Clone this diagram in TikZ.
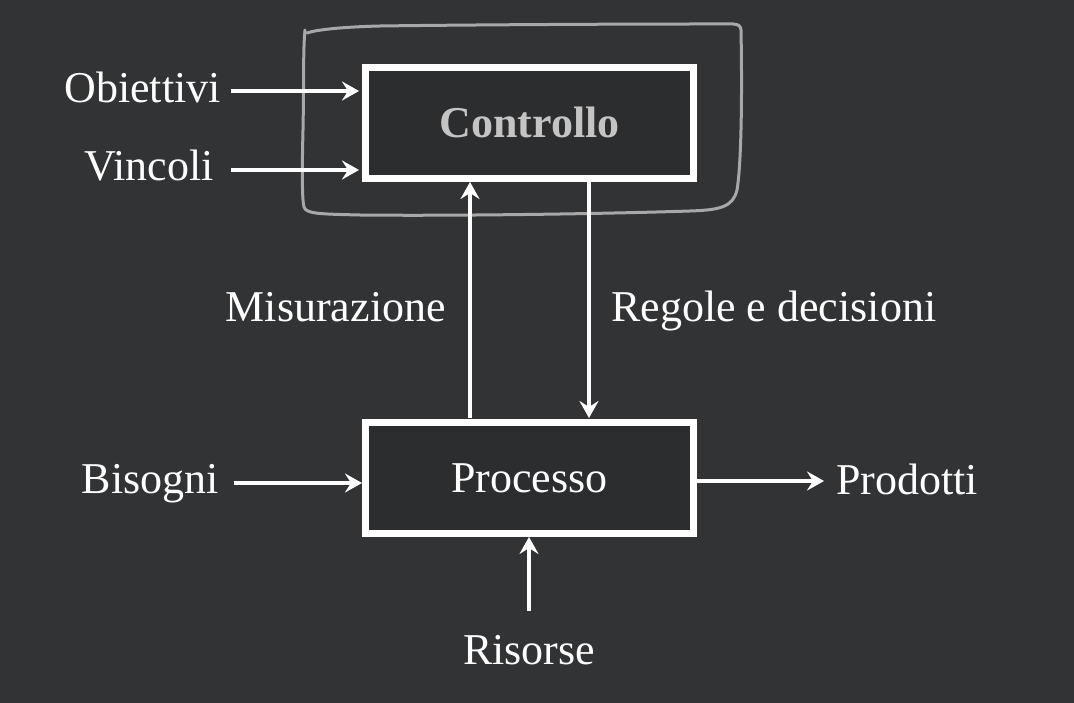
\documentclass[tikz,border=0pt]{standalone}
\usepackage{fontspec}
\setmainfont{Liberation Serif}
\usetikzlibrary{arrows.meta}
\definecolor{bg}{HTML}{323335}
\definecolor{boxfill}{HTML}{2C2D2F}
\definecolor{hand}{HTML}{A8A8A8}
\definecolor{ctrltext}{HTML}{C4C4C4}
\tikzset{
  x=1pt, y=-1pt,
  blk/.style={draw=white, line width=7pt, fill=boxfill, minimum width=328pt, minimum height=111pt, inner sep=0pt},
  lbl/.style={text=white, font=\fontsize{44}{46}\selectfont, inner sep=0pt},
  arr/.style={draw=white, line width=4pt, -{Stealth[length=17pt,width=19pt,inset=6pt]}},
}
\begin{document}
\begin{tikzpicture}
\useasboundingbox (0,0) rectangle (1074,703);
\fill[bg] (0,0) rectangle (1074,703);
% hand-drawn outline
\draw[hand, line width=3pt, line join=round, line cap=round]
  (305,30) .. controls (303,50) and (304,80) .. (303,130)
  .. controls (302,170) and (302,200) .. (304,207)
  .. controls (306,214) and (320,214) .. (360,215)
  .. controls (450,216) and (600,214) .. (690,211)
  .. controls (720,210) and (733,207) .. (737,190)
  .. controls (742,160) and (742,80) .. (741,30)
  .. controls (740,22) and (735,24) .. (700,24)
  .. controls (600,24) and (450,25) .. (380,26)
  .. controls (340,27) and (315,30) .. (307,33);
\node[blk] (ctrl) at (529.5,123) {};
\node[text=ctrltext, font=\fontsize{44}{46}\selectfont\bfseries, inner sep=0pt, anchor=base] (ctrlt) at (529.5,138) {Controllo};
\node[blk] (proc) at (529.5,477.5) {};
\node[lbl, anchor=base] (proct) at (529.5,492) {Processo};
% labels
\node[lbl, anchor=base east] (obi) at (221,103) {Obiettivi};
\node[lbl, anchor=base east] (vin) at (214,181) {Vincoli};
\node[lbl, anchor=base east] (mis) at (446,322) {Misurazione};
\node[lbl, anchor=base west] (reg) at (611,322) {Regole e decisioni};
\node[lbl, anchor=base east] (bis) at (219,493) {Bisogni};
\node[lbl, anchor=base west] (pro) at (836,494) {Prodotti};
\node[lbl, anchor=base] (ris) at (529,664) {Risorse};
% coordinates for arrows
\coordinate (o1) at (231,91);
\coordinate (o2) at (359,91);
\coordinate (v1) at (231,170);
\coordinate (v2) at (359,170);
\coordinate (m1) at (470,418);
\coordinate (m2) at (470,182);
\coordinate (r1) at (589,182);
\coordinate (r2) at (589,418);
\coordinate (b1) at (234,483);
\coordinate (b2) at (362,483);
\coordinate (p1) at (697,481);
\coordinate (p2) at (824,481);
\coordinate (s1) at (529,611);
\coordinate (s2) at (529,537);
\draw[arr] (o1) -- (o2);
\draw[arr] (v1) -- (v2);
\draw[arr] (m1) -- (m2);
\draw[arr] (r1) -- (r2);
\draw[arr] (b1) -- (b2);
\draw[arr] (p1) -- (p2);
\draw[arr] (s1) -- (s2);
\end{tikzpicture}
\end{document}
